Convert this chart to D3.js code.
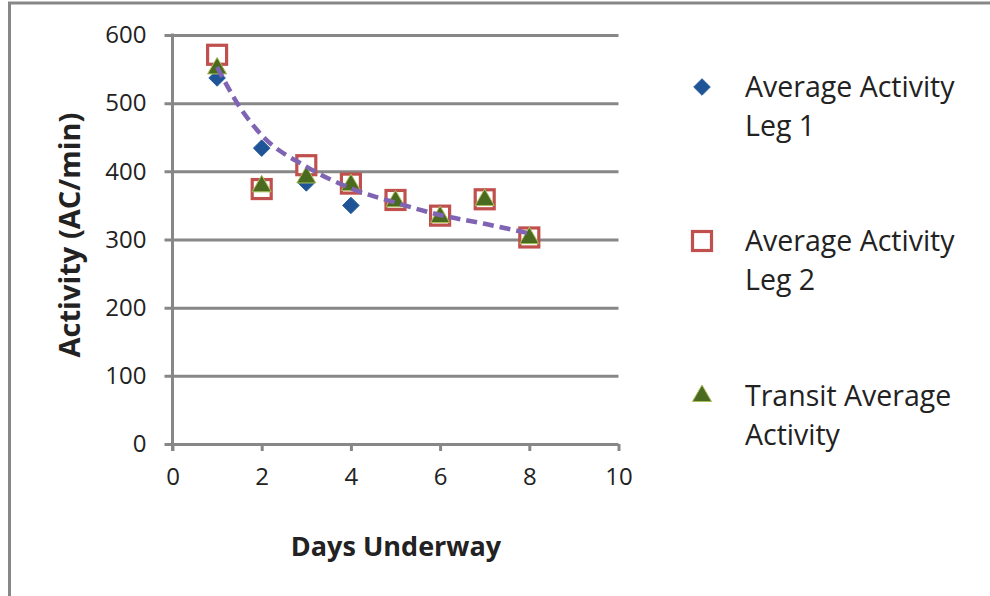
<!DOCTYPE html>
<html>
<head>
<meta charset="utf-8">
<script src="https://cdn.jsdelivr.net/npm/d3@7"></script>
<style>
  html, body { margin: 0; padding: 0; background: #ffffff; }
  svg { display: block; }
  text { font-family: "Open Sans", "Noto Sans", sans-serif; fill: #222; }
</style>
</head>
<body>
<svg id="chart" width="990" height="596"></svg>
<script>
// ---------------- data ----------------
const days = [1, 2, 3, 4, 5, 6, 7, 8];
const leg1 = [537, 434, 383, 350, 356, 334, 358, 302];
const leg2 = [571, 374, 409, 382, 358, 335, 359, 303];
const transit = [551, 378, 391, 380, 356, 333, 358, 302];
const trendX = [1, 1.5, 2, 3, 4, 5, 6, 7, 8];
const trendY = [553, 495, 453, 407, 375, 354, 336, 323, 309];
const xTicks = [0, 2, 4, 6, 8, 10];
const yTicks = [0, 100, 200, 300, 400, 500, 600];
const seriesNames = [["Average Activity", "Leg 1"], ["Average Activity", "Leg 2"], ["Transit Average", "Activity"]];

// ---------------- layout ----------------
const svg = d3.select("#chart");
const x = d3.scaleLinear().domain([0, 10]).range([172.5, 618.5]);
const y = d3.scaleLinear().domain([0, 600]).range([444, 35]);
const gridColor = "#878787";

// frame
svg.append("line").attr("x1", 9.5).attr("x2", 9.5).attr("y1", 2).attr("y2", 596)
  .attr("stroke", gridColor).attr("stroke-width", 3);
svg.append("line").attr("x1", 8).attr("x2", 990).attr("y1", 3).attr("y2", 3)
  .attr("stroke", gridColor).attr("stroke-width", 3);

// y axis with gridlines
const yAxis = d3.axisLeft(y).tickValues(yTicks).tickSize(-(x(10) - x(0))).tickPadding(20);
const gy = svg.append("g").attr("transform", `translate(${x(0)},0)`).call(yAxis);
gy.select(".domain").remove();
gy.selectAll(".tick line").attr("stroke", gridColor).attr("stroke-width", 3)
  .attr("x1", -8);
gy.selectAll(".tick text").attr("font-size", 24).attr("fill", "#222")
  .attr("font-family", "Open Sans").attr("x", -26);

// x axis
const xAxis = d3.axisBottom(x).tickValues(xTicks).tickSize(7).tickPadding(17);
const gx = svg.append("g").attr("transform", `translate(0,${y(0)})`).call(xAxis);
gx.select(".domain").remove();
gx.selectAll(".tick line").attr("stroke", gridColor).attr("stroke-width", 3);
gx.selectAll(".tick text").attr("font-size", 24).attr("fill", "#222")
  .attr("font-family", "Open Sans");

// left axis line
svg.append("line").attr("x1", x(0)).attr("x2", x(0)).attr("y1", y(600) - 1.5).attr("y2", y(0) + 7)
  .attr("stroke", gridColor).attr("stroke-width", 3);

// markers
const diamond = d3.symbol().type(d3.symbolDiamond2).size(175);
const triangle = d3.symbol().type(d3.symbolTriangle2).size(260);

function drawDiamond(g, cx, cy) {
  g.append("path").attr("d", diamond()).attr("transform", `translate(${cx},${cy})`)
    .attr("fill", "#1f5597").attr("stroke", "#2a5f9e").attr("stroke-width", 1);
}
function drawSquare(g, cx, cy) {
  g.append("rect").attr("x", cx - 9.5).attr("y", cy - 9.5).attr("width", 19).attr("height", 19)
    .attr("fill", "#ffffff").attr("stroke", "#c0504d").attr("stroke-width", 3.2);
}
function drawTriangle(g, cx, cy) {
  g.append("path").attr("d", triangle()).attr("transform", `translate(${cx},${cy})`)
    .attr("fill", "#4a6a1f").attr("stroke", "#a9bd5a").attr("stroke-width", 1);
}

const gm = svg.append("g");
days.forEach((d, i) => drawDiamond(gm, x(d), y(leg1[i])));
days.forEach((d, i) => drawSquare(gm, x(d), y(leg2[i])));
days.forEach((d, i) => drawTriangle(gm, x(d), y(transit[i])));

// trendline
const trend = trendX.map((d, i) => [d, trendY[i]]);
svg.append("path").datum(trend)
  .attr("d", d3.line().x(d => x(d[0])).y(d => y(d[1])).curve(d3.curveMonotoneX))
  .attr("fill", "none").attr("stroke", "#8064b4").attr("stroke-width", 4.5)
  .attr("stroke-dasharray", "11,6").attr("stroke-linecap", "butt");

// axis titles
svg.append("text").attr("x", 396).attr("y", 556).attr("text-anchor", "middle")
  .attr("font-size", 27).attr("font-weight", "bold").attr("fill", "#111").text("Days Underway");
svg.append("text").attr("transform", "translate(80,235) rotate(-90)").attr("text-anchor", "middle")
  .attr("font-size", 29).attr("font-weight", "bold").attr("fill", "#111").text("Activity (AC/min)");

// legend
const legY = [87, 241, 396];
const leg = svg.append("g");
drawDiamond(leg, 702, legY[0]);
drawSquare(leg, 702, legY[1]);
drawTriangle(leg, 702, legY[2]);
seriesNames.forEach((lines, i) => {
  lines.forEach((t, j) => {
    leg.append("text").attr("x", 745).attr("y", legY[i] + 10 + j * 39)
      .attr("font-size", 28.5).attr("fill", "#222").text(t);
  });
});
</script>
</body>
</html>
